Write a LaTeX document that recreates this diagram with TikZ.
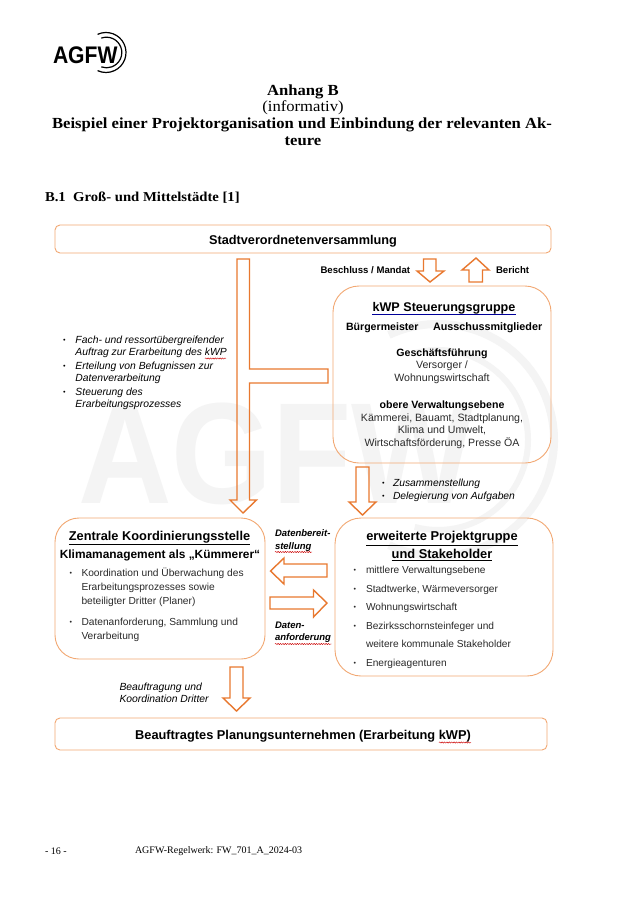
\documentclass[tikz,border=0pt]{standalone}
\usepackage{fontspec}
\setmainfont{Liberation Serif}
\setsansfont{Liberation Sans}
\newfontfamily\titlefont[FakeStretch=1.08]{Liberation Serif}
\newfontfamily\logofont[FakeStretch=0.88]{Liberation Sans}
\newfontfamily\wmfont[FakeStretch=0.9]{Liberation Sans}
\usetikzlibrary{decorations.pathmorphing}
\definecolor{orgline}{HTML}{E8782F}
\definecolor{boxline}{HTML}{F2A873}
\definecolor{wmgray}{HTML}{F4F4F4}
\definecolor{txtgray}{HTML}{2A2A2A}
\newcommand{\fs}[1]{\fontsize{#1}{#1}\selectfont}
\newcommand{\bul}[1]{\makebox[#1][l]{\raisebox{1pt}{\fs{7}\textbullet}}}
\newcommand{\cont}[1]{\hspace*{#1}}
\tikzset{
  x=1pt,y=-1pt,
  every node/.style={inner sep=0pt,outer sep=0pt},
  sansbox/.style={draw=boxline,line width=0.9pt,fill=none,rounded corners=#1},
  blockarrow/.style={draw=orgline,line width=1.4pt,line join=miter,fill=none},
  boldtxt/.style={font=\sffamily\bfseries\fs{10.6},text=black,align=center},
  plain/.style={font=\sffamily\fs{10.6},text=txtgray,align=center},
  slant/.style={font=\sffamily\itshape\fs{10.35},text=black,align=left},
  serifbold/.style={font=\titlefont\bfseries\fs{15.4},align=center},
  squiggle/.style={draw=red!80!black,line width=0.45pt,decorate,decoration={snake,amplitude=0.6pt,segment length=2.4pt}},
}
\begin{document}
\begin{tikzpicture}
\useasboundingbox (0,0) rectangle (636,900);
\fill[white] (0,0) rectangle (636,900);

% watermark
\node[anchor=base west,font=\wmfont\bfseries\fs{144},text=wmgray] (wmtext) at (78,503) {AGFW};
\draw[wmgray,line width=8pt] (438,440) ++(-115:116) arc[start angle=-115,end angle=115,radius=116];
\draw[wmgray,line width=6pt] (438,440) ++(-105:90) arc[start angle=-105,end angle=105,radius=90];

% logo
\node[anchor=base west,font=\logofont\bfseries\fs{24}] (logotext) at (53,63) {AGFW};
\draw[black,line width=1.2pt] (106,52.5) ++(-115:20) arc[start angle=-115,end angle=115,radius=20];
\draw[black,line width=1.2pt] (106.5,52.5) ++(-110:15.3) arc[start angle=-110,end angle=110,radius=15.3];

% titles
\node[serifbold] (anhang) at (303,91.5) {Anhang B};
\node[font=\titlefont\fs{15.4}] (inform) at (303,108) {(informativ)};
\node[serifbold] (beispiel) at (302,125) {Beispiel einer Projektorganisation und Einbindung der relevanten Ak-};
\node[serifbold] (teure) at (303,141.5) {teure};
\node[anchor=west,font=\titlefont\bfseries\fs{13.6}] (b1) at (45,197.5) {B.1\ \ Groß- und Mittelstädte [1]};

% boxes
\draw[sansbox=5pt] (55,225) rectangle (551,253);
\node[font=\sffamily\bfseries\fs{12.7}] (stadt) at (303,241) {Stadtverordnetenversammlung};
\draw[sansbox=26pt] (333,286) rectangle (551,463);
\draw[sansbox=24pt] (55,518) rectangle (265,659);
\draw[sansbox=26pt] (335,518) rectangle (553,676);
\draw[sansbox=5pt] (55,718) rectangle (547,750);
\node[font=\sffamily\bfseries\fs{12.8}] (plan) at (303,736) {Beauftragtes Planungsunternehmen (Erarbeitung kWP)};

% block arrows
\draw[blockarrow] (237,259) -- (249.5,259) -- (249.5,369) -- (328,369) -- (328,383) -- (249.5,383) -- (249.5,500) -- (256.5,500) -- (243,513) -- (230,500) -- (237,500) -- cycle;
\draw[blockarrow] (423.5,259) -- (436,259) -- (436,271) -- (444,271) -- (430,282) -- (417,271) -- (423.5,271) -- cycle;
\draw[blockarrow] (469,282) -- (482.5,282) -- (482.5,270) -- (489,270) -- (476,258) -- (462,270) -- (469,270) -- cycle;
\draw[blockarrow] (356,467) -- (369,467) -- (369,502) -- (376,502) -- (362.5,515) -- (349,502) -- (356,502) -- cycle;
\draw[blockarrow] (327,564) -- (327,577) -- (284,577) -- (284,584) -- (270.5,571) -- (284,558) -- (284,564) -- cycle;
\draw[blockarrow] (270,597) -- (270,609) -- (313.5,609) -- (313.5,617) -- (327,603) -- (313.5,590) -- (313.5,597) -- cycle;
\draw[blockarrow] (230,667) -- (243,667) -- (243,698) -- (250,698) -- (236.5,711) -- (223,698) -- (230,698) -- cycle;

% labels at top
\node[anchor=west,font=\sffamily\bfseries\fs{9.6}] (beschluss) at (320.5,270) {Beschluss / Mandat};
\node[anchor=west,font=\sffamily\bfseries\fs{9.6}] (bericht) at (496,270) {Bericht};

% kWP box
\node[font=\sffamily\bfseries\fs{12.6}] (kwp) at (444,308) {kWP Steuerungsgruppe};
\draw[blue!60!black,line width=1pt] (372,314) -- (516,314);
\node[boldtxt,anchor=west] (buerger) at (346,327.5) {Bürgermeister};
\node[boldtxt,anchor=west,font=\sffamily\bfseries\fs{10.8}] (aus) at (433,327.5) {Ausschussmitglieder};
\node[boldtxt] (gf) at (442,353.5) {Geschäftsführung};
\node[plain] (vers) at (442,372.5) {Versorger /\\[2.4pt]Wohnungswirtschaft};
\node[boldtxt] (obere) at (442,405.5) {obere Verwaltungsebene};
\node[plain] (kaem) at (442,431) {Kämmerei, Bauamt, Stadtplanung,\\[2pt]Klima und Umwelt,\\[2pt]Wirtschaftsförderung, Presse ÖA};

% left list
\node[slant,anchor=north west] (auftrag) at (63,335.5) {\bul{12.5pt}Fach- und ressortübergreifender\\[1.65pt]\cont{12.5pt}Auftrag zur Erarbeitung des kWP\\[3.75pt]\bul{12.5pt}Erteilung von Befugnissen zur\\[1.65pt]\cont{12.5pt}Datenverarbeitung\\[3.75pt]\bul{12.5pt}Steuerung des\\[1.65pt]\cont{12.5pt}Erarbeitungsprozesses};
\draw[squiggle] (205,358.5) -- (226,358.5);

% Zusammenstellung
\node[slant,anchor=north west,font=\sffamily\itshape\fs{10.3}] (zus) at (382,479.5) {\bul{11pt}Zusammenstellung\\[2.6pt]\bul{11pt}Delegierung von Aufgaben};

% Zentrale
\node[font=\sffamily\bfseries\fs{12.8}] (zk) at (159.5,538) {\underline{Zentrale Koordinierungsstelle}};
\node[font=\sffamily\bfseries\fs{11.9}] (klima) at (160,555) {Klimamanagement als „Kümmerer“};
\node[anchor=north west,font=\sffamily\fs{10.2},text=txtgray,align=left] (zlist) at (69.5,568) {\bul{12pt}Koordination und Überwachung des\\[3.8pt]\cont{12pt}Erarbeitungsprozesses sowie\\[3.8pt]\cont{12pt}beteiligter Dritter (Planer)\\[10.8pt]\bul{12pt}Datenanforderung, Sammlung und\\[3.8pt]\cont{12pt}Verarbeitung};

% Daten labels
\node[slant,anchor=north west,font=\sffamily\bfseries\itshape\fs{9.5}] (db) at (275,529.5) {Datenbereit-\\[3.4pt]stellung};
\draw[squiggle] (275,552) -- (312,552);
\node[slant,anchor=north west,font=\sffamily\bfseries\itshape\fs{9.5}] (da) at (275,621.5) {Daten-\\[3.4pt]anforderung};
\draw[squiggle] (275,644) -- (331.5,644);

% erweiterte
\node[font=\sffamily\bfseries\fs{12.85},align=center] (erw) at (442,546) {\underline{erweiterte Projektgruppe}\\[2.4pt]\underline{und Stakeholder}};
\node[anchor=north west,font=\sffamily\fs{10.15},text=txtgray,align=left] (elist) at (353.5,566.5) {\bul{12.5pt}mittlere Verwaltungsebene\\[8.3pt]\bul{12.5pt}Stadtwerke, Wärmeversorger\\[8.3pt]\bul{12.5pt}Wohnungswirtschaft\\[8.3pt]\bul{12.5pt}Bezirksschornsteinfeger und\\[8.3pt]\cont{12.5pt}weitere kommunale Stakeholder\\[8.3pt]\bul{12.5pt}Energieagenturen};

% Beauftragung
\node[slant,anchor=north west] (bea) at (119.5,683) {Beauftragung und\\[1.7pt]Koordination Dritter};

\draw[squiggle] (439,742.5) -- (471,742.5);

% footer
\node[anchor=west,font=\rmfamily\fs{10}] (pg) at (45,851) {- 16 -};
\node[anchor=west,font=\rmfamily\fs{10}] (rw) at (135,851) {AGFW-Regelwerk: FW\_701\_A\_2024-03};
\end{tikzpicture}
\end{document}
